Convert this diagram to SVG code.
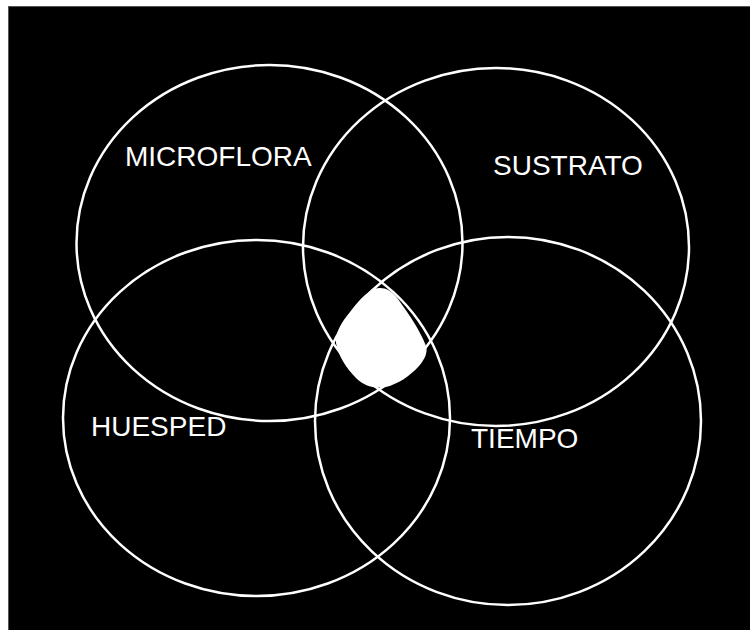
<svg xmlns="http://www.w3.org/2000/svg" width="750" height="630" viewBox="0 0 750 630">
<style>
.c{fill:none;stroke:#fff;stroke-width:2.5}
.t{fill:#fff;font-family:"Liberation Sans",Arial,sans-serif;font-size:28px}
</style>
<rect x="0" y="0" width="750" height="630" fill="#fff"/>
<rect x="8.5" y="6.5" width="745" height="630" fill="#000" stroke="#555" stroke-width="1"/>
<g id="microflora"><ellipse class="c" cx="269.5" cy="243" rx="193" ry="178"/><text class="t" x="125" y="166">MICROFLORA</text></g>
<g id="sustrato"><ellipse class="c" cx="496" cy="247" rx="193" ry="179"/><text class="t" x="493" y="175">SUSTRATO</text></g>
<g id="huesped"><ellipse class="c" cx="256.5" cy="418" rx="193.5" ry="178"/><text class="t" x="91" y="436">HUESPED</text></g>
<g id="tiempo"><ellipse class="c" cx="508" cy="421" rx="193" ry="184"/><text class="t" x="471" y="448">TIEMPO</text></g>
<g id="centro"><path fill="#fff" d="M380,288 C372,287 360,298 350,312 C341,323 335,333 336,343 C338,355 346,368 356,378 C364,386 374,389 386,387 C398,384 410,376 419,366 C425,359 428,352 426,346 C420,330 408,313 398,299 C392,291 386,288 380,288 Z"/></g>
</svg>
